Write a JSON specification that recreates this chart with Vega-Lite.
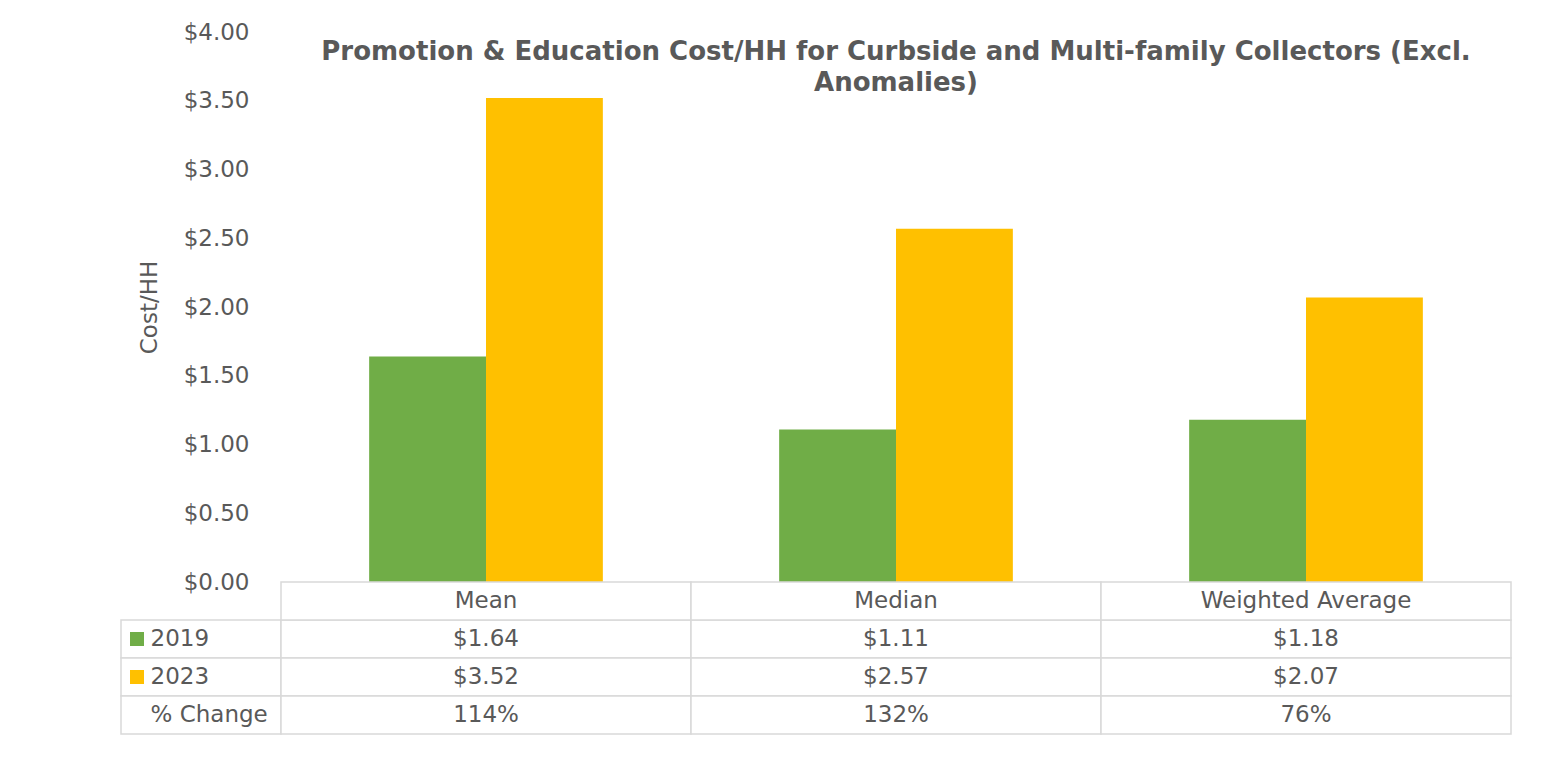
{
  "$schema": "https://vega.github.io/schema/vega-lite/v6.json",
  "autosize": {"type": "pad"},
  "padding": {"left": 120, "top": 21, "right": 0, "bottom": 0},
  "background": "white",
  "datasets": {
    "bars": [
      {"category": "Mean", "year": "2019", "value": 1.64},
      {"category": "Mean", "year": "2023", "value": 3.52},
      {"category": "Median", "year": "2019", "value": 1.11},
      {"category": "Median", "year": "2023", "value": 2.57},
      {"category": "Weighted Average", "year": "2019", "value": 1.18},
      {"category": "Weighted Average", "year": "2023", "value": 2.07}
    ],
    "change": [
      {"category": "Mean", "change": 1.14},
      {"category": "Median", "change": 1.32},
      {"category": "Weighted Average", "change": 0.76}
    ],
    "rows": [
      {"row": "2019"},
      {"row": "2023"},
      {"row": "% Change"}
    ]
  },
  "config": {
    "font": "DejaVu Sans",
    "view": {"stroke": null}
  },
  "bounds": "flush",
  "spacing": 0,
  "columns": 2,
  "resolve": {"scale": {"x": "independent", "y": "independent"}},
  "concat": [
    {
      "width": 160,
      "height": 550,
      "data": {"values": []},
      "mark": "rect"
    },
    {
      "width": 1230,
      "height": 550,
      "data": {"name": "bars"},
      "title": {
        "text": ["Promotion & Education Cost/HH for Curbside and Multi-family Collectors (Excl.", "Anomalies)"],
        "fontSize": 26,
        "fontWeight": "bold",
        "color": "#595959",
        "anchor": "middle",
        "baseline": "top",
        "lineHeight": 31,
        "offset": -75
      },
      "mark": {"type": "bar"},
      "encoding": {
        "x": {
          "field": "category", "type": "nominal",
          "sort": ["Mean", "Median", "Weighted Average"],
          "scale": {"paddingInner": 0.43, "paddingOuter": 0.215},
          "axis": null
        },
        "xOffset": {"field": "year", "type": "nominal", "sort": ["2019", "2023"]},
        "y": {
          "field": "value", "type": "quantitative",
          "scale": {"domain": [0, 4], "nice": false},
          "axis": {
            "title": "Cost/HH",
            "titleFontSize": 23,
            "titleFontWeight": "normal",
            "titleColor": "#595959",
            "titlePadding": 22,
            "labelFontSize": 23,
            "labelColor": "#595959",
            "labelPadding": 32,
            "format": "$.2f",
            "values": [0, 0.5, 1, 1.5, 2, 2.5, 3, 3.5, 4],
            "grid": false,
            "domain": false,
            "ticks": false
          }
        },
        "color": {
          "field": "year", "type": "nominal",
          "scale": {"domain": ["2019", "2023"], "range": ["#70AD47", "#FFC000"]},
          "legend": {
            "orient": "none",
            "legendX": 9,
            "legendY": 600,
            "direction": "vertical",
            "title": null,
            "symbolType": "square",
            "symbolSize": 196,
            "symbolStrokeWidth": 0,
            "symbolOpacity": 1,
            "labelExpr": "''",
            "rowPadding": 24,
            "padding": 0
          }
        }
      }
    },
    {
      "width": 160,
      "height": 152,
      "data": {"name": "rows"},
      "mark": {"type": "rect", "fill": "white", "stroke": "#d9d9d9", "strokeWidth": 1.5},
      "encoding": {
        "y": {
          "field": "row", "type": "nominal",
          "scale": {"domain": ["Header", "2019", "2023", "% Change"], "paddingInner": 0, "paddingOuter": 0},
          "axis": {
            "title": null,
            "orient": "left",
            "labelAlign": "left",
            "labelPadding": -29,
            "labelFontSize": 23,
            "labelColor": "#595959",
            "labelExpr": "datum.value == 'Header' ? '' : datum.value",
            "ticks": false,
            "domain": false,
            "grid": false,
            "zindex": 1
          }
        }
      }
    },
    {
      "width": 1230,
      "height": 152,
      "encoding": {
        "x": {
          "field": "category", "type": "nominal",
          "sort": ["Mean", "Median", "Weighted Average"],
          "scale": {"paddingInner": 0, "paddingOuter": 0},
          "axis": null
        }
      },
      "layer": [
        {
          "data": {"name": "bars"},
          "mark": {"type": "rect", "fill": "white", "stroke": "#d9d9d9", "strokeWidth": 1.5},
          "encoding": {
            "y": {"field": "year", "type": "nominal", "scale": {"domain": ["Header", "2019", "2023", "% Change"], "paddingInner": 0, "paddingOuter": 0}, "axis": null}
          }
        },
        {
          "data": {"name": "change"},
          "mark": {"type": "rect", "fill": "white", "stroke": "#d9d9d9", "strokeWidth": 1.5},
          "encoding": {
            "y": {"datum": "% Change", "type": "nominal", "axis": null}
          }
        },
        {
          "data": {"name": "change"},
          "mark": {"type": "rect", "fill": "white", "stroke": "#d9d9d9", "strokeWidth": 1.5},
          "encoding": {
            "y": {"datum": "Header", "type": "nominal", "axis": null}
          }
        },
        {
          "data": {"name": "bars"},
          "mark": {"type": "text", "fontSize": 23, "color": "#595959"},
          "encoding": {
            "y": {"field": "year", "type": "nominal", "axis": null},
            "text": {"field": "value", "type": "quantitative", "format": "$.2f"}
          }
        },
        {
          "data": {"name": "change"},
          "mark": {"type": "text", "fontSize": 23, "color": "#595959"},
          "encoding": {
            "y": {"datum": "% Change", "type": "nominal", "axis": null},
            "text": {"field": "change", "type": "quantitative", "format": ".0%"}
          }
        },
        {
          "data": {"name": "change"},
          "mark": {"type": "text", "fontSize": 23, "color": "#595959"},
          "encoding": {
            "y": {"datum": "Header", "type": "nominal", "axis": null},
            "text": {"field": "category", "type": "nominal"}
          }
        }
      ]
    }
  ]
}
